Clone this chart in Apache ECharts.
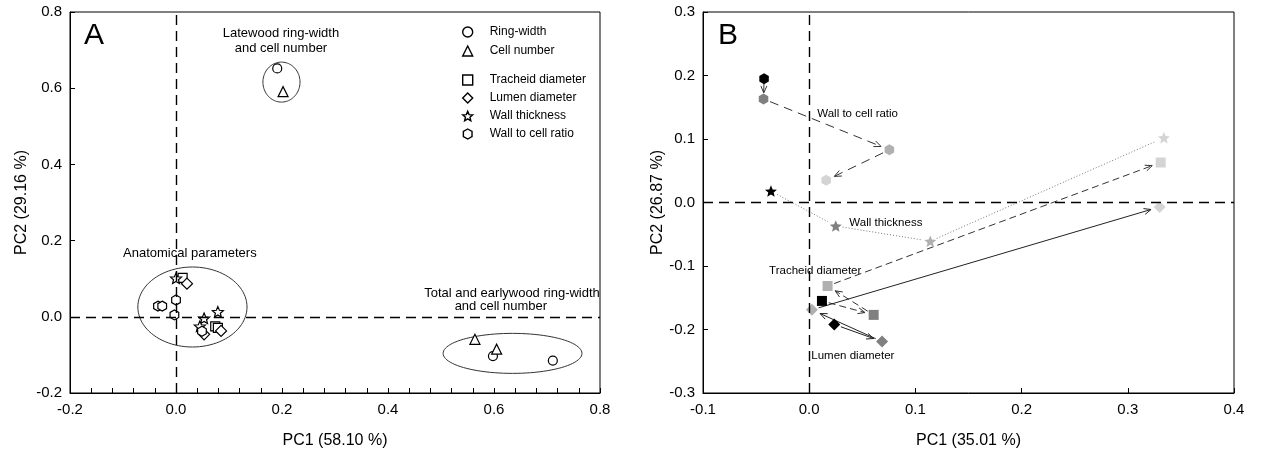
<!DOCTYPE html>
<html><head><meta charset="utf-8">
<script src="https://cdn.jsdelivr.net/npm/echarts@6/dist/echarts.min.js"></script>
<style>html,body{margin:0;padding:0;background:#fff}#c{width:1263px;height:456px}</style>
</head><body><div id="c"></div>
<script>
// ---------- Panel A data (PC1, PC2) ----------
const ringWidthA   = [[0.191,0.652],[0.598,-0.103],[0.711,-0.115]];
const cellNumberA  = [[0.202,0.591],[0.564,-0.059],[0.605,-0.085]];
const tracheidA    = [[0.0125,0.102],[0.074,-0.025],[0.079,-0.029]];
const lumenA       = [[0.0207,0.087],[0.053,-0.046],[0.085,-0.037]];
const wallThickA   = [[0.0,0.101],[0.053,-0.004],[0.079,0.013],[0.045,-0.025]];
const wallRatioA   = [[-0.034,0.028],[-0.026,0.028],[0.0,0.044],[-0.003,0.005],[0.049,-0.038]];
// group ellipses: centre x, centre y, radius x, radius y (data units)
const groupsA      = [[0.199,0.616,0.035,0.0525],[0.031,0.0257,0.103,0.105],[0.635,-0.096,0.131,0.0525]];
const legendTop    = ['Ring-width','Cell number'];
const legendBottom = ['Tracheid diameter','Lumen diameter','Wall thickness','Wall to cell ratio'];

// ---------- Panel B data (4 stages each, black -> lightest) ----------
const tracheidB  = [[0.012,-0.155],[0.0607,-0.177],[0.0173,-0.1315],[0.331,0.063]];
const lumenB     = [[0.0236,-0.192],[0.0686,-0.219],[0.0025,-0.169],[0.330,-0.007]];
const wallThickB = [[-0.036,0.018],[0.025,-0.037],[0.114,-0.061],[0.334,0.102]];
const wallRatioB = [[-0.0425,0.195],[-0.043,0.163],[0.0755,0.083],[0.016,0.035]];
const stageColors = ['#000000','#808080','#b0b0b0','#d4d4d4'];

const FONT = '"Liberation Sans", Arial, sans-serif';
const STAR = (function(){let s='path://';for(let i=0;i<10;i++){const r=i%2?0.45:1;const a=-Math.PI/2+i*Math.PI/5;s+=(i?'L':'M')+(r*Math.cos(a)).toFixed(3)+','+(r*Math.sin(a)).toFixed(3);}return s+'Z';})();
const HEX = 'path://M0,-1L0.866,-0.5L0.866,0.5L0,1L-0.866,0.5L-0.866,-0.5Z';

const notesA = [
  {text:'A', x:-0.1736, y:0.737, align:'left', size:30},
  {text:'Latewood ring-width', x:0.198, y:0.745, align:'center'},
  {text:'and cell number', x:0.198, y:0.705, align:'center'},
  {text:'Anatomical parameters', x:-0.1, y:0.167, align:'left'},
  {text:'Total and earlywood ring-width', x:0.634, y:0.0625, align:'center'},
  {text:'and cell number', x:0.613, y:0.028, align:'center'}
];
const notesB = [
  {text:'B', x:-0.0858, y:0.262, align:'left', size:30},
  {text:'Wall to cell ratio', x:0.0076, y:0.140, align:'left', size:11.5},
  {text:'Wall thickness', x:0.0378, y:-0.032, align:'left', size:11.5},
  {text:'Tracheid diameter', x:-0.0378, y:-0.108, align:'left', size:11.5},
  {text:'Lumen diameter', x:0.002, y:-0.242, align:'left', size:11.5}
];

function notesSeries(notes, gi){
  return {type:'custom', xAxisIndex:gi, yAxisIndex:gi, silent:true, z:6,
    data: notes.map(n=>[n.x,n.y]), encode:{x:0,y:1},
    renderItem(params, api){
      const n = notes[params.dataIndex];
      const p = api.coord([api.value(0), api.value(1)]);
      return {type:'text', x:p[0], y:p[1], style:{text:n.text, fill:'#000',
        font:(n.size||13)+'px '+FONT, align:n.align, verticalAlign:'middle',
        textAlign:n.align, textVerticalAlign:'middle'}};
    }};
}

function zeroLines(){
  return {silent:true, symbol:['none','none'], label:{show:false},
    lineStyle:{type:[10,6], color:'#000', width:1.4},
    data:[{xAxis:0},{yAxis:0}]};
}

function axisCommon(){
  return {type:'value', splitLine:{show:false},
    axisLine:{show:true, onZero:false, lineStyle:{color:'#000', width:1}},
    axisTick:{show:true, inside:true, length:5, lineStyle:{color:'#000'}},
    nameTextStyle:{fontSize:16, color:'#000', fontFamily:FONT},
    nameLocation:'middle'};
}
function labelStyle(){
  return {formatter:v=>v.toFixed(1), fontSize:15, color:'#000', fontFamily:FONT, margin:9, showMinLabel:true, showMaxLabel:true};
}

function symA(name, data, symbol, size){
  return {name, type:'scatter', xAxisIndex:0, yAxisIndex:0, data, symbol, symbolSize:size, symbolKeepAspect:true,
    itemStyle:{color:'#fff', borderColor:'#000', borderWidth:1.2, opacity:1}, z:4};
}
function symB(name, data, symbol, size){
  return {name, type:'scatter', xAxisIndex:1, yAxisIndex:1, data, symbol, symbolSize:size, symbolKeepAspect:true,
    itemStyle:{color:p=>stageColors[p.dataIndex], opacity:1}, z:4};
}
function arrowSeries(path, dash, color, withArrow){
  const segs=[];
  for(let i=0;i<path.length-1;i++) segs.push([path[i][0],path[i][1],path[i+1][0],path[i+1][1]]);
  return {type:'custom', xAxisIndex:1, yAxisIndex:1, silent:true, z:3, data:segs, encode:{x:[0,2],y:[1,3]},
    renderItem(params, api){
      const a=api.coord([api.value(0),api.value(1)]);
      const b=api.coord([api.value(2),api.value(3)]);
      const dx=b[0]-a[0], dy=b[1]-a[1], L=Math.hypot(dx,dy)||1, ux=dx/L, uy=dy/L;
      const g0=Math.min(7,L*0.25), g1=Math.min(9,L*0.3);
      const s=[a[0]+ux*g0,a[1]+uy*g0], e=[b[0]-ux*g1,b[1]-uy*g1];
      const ch=[{type:'line', shape:{x1:s[0],y1:s[1],x2:e[0],y2:e[1]}, style:{stroke:color, lineWidth:1, lineDash:dash, fill:null}}];
      if(withArrow){
        const h=7, w=3, nx=-uy, ny=ux;
        ch.push({type:'polyline', shape:{points:[[e[0]-ux*h+nx*w,e[1]-uy*h+ny*w],[e[0],e[1]],[e[0]-ux*h-nx*w,e[1]-uy*h-ny*w]]},
          style:{stroke:color, lineWidth:1, fill:null}});
      }
      return {type:'group', children:ch};
    }};
}

const legendBase = {orient:'vertical', left:462, itemWidth:10, itemHeight:10, padding:0, selectedMode:false,
  itemStyle:{borderWidth:1.4},
  textStyle:{fontSize:12, color:'#000', fontFamily:FONT, padding:[0,0,0,12]}};

const option = {
  animation:false,
  backgroundColor:'#fff',
  textStyle:{fontFamily:FONT},
  grid:[
    {left:70, top:12, width:530, height:381, show:true, borderColor:'#000', borderWidth:1, backgroundColor:'transparent', outerBoundsMode:'none', containLabel:false},
    {left:703, top:12, width:531, height:381, show:true, borderColor:'#000', borderWidth:1, backgroundColor:'transparent', outerBoundsMode:'none', containLabel:false}
  ],
  xAxis:[
    Object.assign(axisCommon(), {gridIndex:0, min:-0.2, max:0.8, interval:0.2, name:'PC1 (58.10 %)', nameGap:40,
      minorTick:{show:true, splitNumber:5, length:5, lineStyle:{color:'#000'}}, axisLabel:labelStyle()}),
    Object.assign(axisCommon(), {gridIndex:1, min:-0.1, max:0.4, interval:0.1, name:'PC1 (35.01 %)', nameGap:40, axisLabel:labelStyle()})
  ],
  yAxis:[
    Object.assign(axisCommon(), {gridIndex:0, min:-0.2, max:0.8, interval:0.2, name:'PC2 (29.16 %)', nameGap:40, axisLabel:Object.assign(labelStyle(),{margin:8})}),
    Object.assign(axisCommon(), {gridIndex:1, min:-0.3, max:0.3, interval:0.1, name:'PC2 (26.87 %)', nameGap:33, axisLabel:Object.assign(labelStyle(),{margin:8})})
  ],
  legend:[
    Object.assign({}, legendBase, {data:legendTop, top:26, itemGap:7}),
    Object.assign({}, legendBase, {data:legendBottom, top:74, itemGap:6})
  ],
  series:[
    Object.assign(symA('Ring-width', ringWidthA, 'circle', 9), {markLine:zeroLines()}),
    symA('Cell number', cellNumberA, 'triangle', 10),
    symA('Tracheid diameter', tracheidA, 'rect', 9),
    symA('Lumen diameter', lumenA, 'diamond', 11),
    symA('Wall thickness', wallThickA, STAR, 11),
    symA('Wall to cell ratio', wallRatioA, HEX, 10),
    {type:'custom', xAxisIndex:0, yAxisIndex:0, silent:true, z:2, data:groupsA, encode:{x:0,y:1},
      renderItem(params, api){
        const cx=api.value(0), cy=api.value(1), rx=api.value(2), ry=api.value(3);
        const pts=[];
        for(let k=0;k<=96;k++){const t=k/96*2*Math.PI; pts.push(api.coord([cx+rx*Math.cos(t), cy+ry*Math.sin(t)]));}
        return {type:'polygon', shape:{points:pts}, style:{fill:null, stroke:'#333', lineWidth:1}};
      }},
    notesSeries(notesA, 0),
    arrowSeries(wallRatioB, [9,6], '#333', true),
    arrowSeries(tracheidB, [7,4], '#333', true),
    arrowSeries(lumenB, null, '#222', true),
    arrowSeries(wallThickB, [1,2], '#777', false),
    Object.assign(symB('B Wall to cell ratio', wallRatioB, HEX, 11), {markLine:zeroLines()}),
    symB('B Tracheid diameter', tracheidB, 'rect', 10),
    symB('B Lumen diameter', lumenB, 'diamond', 12),
    symB('B Wall thickness', wallThickB, STAR, 12),
    notesSeries(notesB, 1)
  ]
};
const chart = echarts.init(document.getElementById('c'), null, {renderer:'canvas'});
chart.setOption(option);
</script></body></html>
